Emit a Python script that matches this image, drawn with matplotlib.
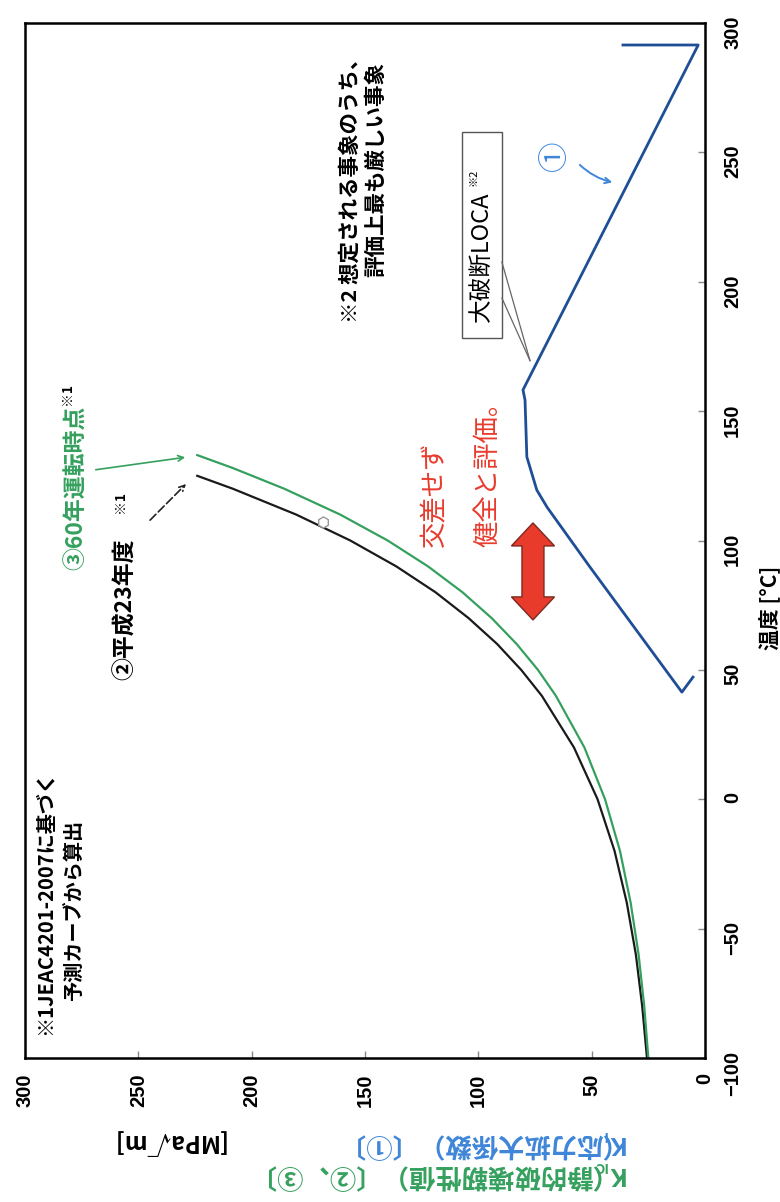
import matplotlib.pyplot as plt
import matplotlib.patches as mpatches
from matplotlib import font_manager

# K_I (stress intensity factor, large break LOCA)  -- temperature [°C], K [MPa√m]
ki_temp = [291.5, 291.5, 158.2, 154.3, 132.3, 119.5, 112.9, 89.8, 41.4, 47.2]
ki_val = [36.2, 3.0, 80.3, 79.4, 78.6, 74.2, 69.7, 50.8, 10.2, 5.3]

# K_IC (static fracture toughness) ② H23 and ③ 60 years operation
kic23_temp = [-100, -80, -60, -40, -20, 0, 20, 40, 50, 60, 70, 80, 90, 100, 110, 120, 125]
kic23_val = [25.6, 27.7, 30.5, 34.5, 39.9, 47.4, 57.8, 72.0, 81.1, 91.7, 104.3, 118.9, 136.2,
             156.5, 180.3, 208.3, 224.0]
kic60_temp = [-100, -80, -60, -40, -20, 0, 20, 40, 50, 60, 70, 80, 90, 100, 110, 120, 128, 133]
kic60_val = [25.0, 26.8, 29.3, 32.8, 37.5, 44.1, 53.2, 65.8, 73.7, 83.1, 94.1, 107.0, 122.2,
             140.0, 160.9, 185.6, 208.3, 224.0]

k_ticks = [0, 50, 100, 150, 200, 250, 300]
t_ticks = [-100, -50, 0, 50, 100, 150, 200, 250, 300]

BLUE = '#1e4f96'
LBLUE = '#3f86d8'
GREEN = '#35a05e'
RED = '#e83b2c'

plt.rcParams['font.family'] = ['Noto Sans CJK JP', 'DejaVu Sans']

names = {f.name for f in font_manager.fontManager.ttflist}
if 'Liberation Sans Narrow' in names:
    num_font, num_size = 'Liberation Sans Narrow', 17
else:
    num_font, num_size = 'Liberation Sans', 14.5

fig = plt.figure(figsize=(7.8, 12.02), dpi=100)
ax = fig.add_axes([25 / 780, 1 - 1058 / 1202, 680 / 780, 1035 / 1202])
ax.set_xlim(300, 0)
ax.set_ylim(-100, 300)
for s in ax.spines.values():
    s.set_linewidth(1.8)

ax.set_xticks(k_ticks)
ax.set_yticks(t_ticks)
ax.yaxis.tick_right()
ax.tick_params(direction='in', length=5, width=1, color='#888', pad=11)
ax.tick_params(axis='x', labelrotation=90)
ax.tick_params(axis='y', labelrotation=90, pad=13)
for lab in ax.get_xticklabels() + ax.get_yticklabels():
    lab.set_fontfamily(num_font)
    lab.set_fontsize(num_size)
    lab.set_fontweight('bold')

# curves
ax.plot(kic23_val, kic23_temp, color='#1a1a1a', lw=1.6)
ax.plot(kic60_val, kic60_temp, color=GREEN, lw=1.6)
ax.plot(ki_val, ki_temp, color=BLUE, lw=2)
ax.plot([168.5], [107], marker='h', ms=8, mfc='white', mec='#999', mew=1)


def vtext(k, t, s, ha='left', **kw):
    ax.text(k, t, s, rotation=90, rotation_mode='anchor', ha=ha, va='center', **kw)


# notes
vtext(291.2, -39.7, '※1JEAC4201-2007に基づく', ha='center', fontsize=14.5, fontweight='bold')
vtext(278.0, -42.8, '予測カーブから算出', ha='center', fontsize=14.5, fontweight='bold')

vtext(277.1, 88.6, '③60年運転時点', fontsize=16.5, fontweight='bold', color=GREEN)
vtext(281.5, 152.4, '※1', fontsize=10, fontweight='bold')
vtext(255.9, 46.1, '②平成23年度', fontsize=16.5, fontweight='bold')
vtext(258.1, 110.6, '※1', fontsize=10, fontweight='bold')

ax.annotate('', xy=(228.1, 132.3), xytext=(270, 127.2),
            arrowprops=dict(arrowstyle='->', color=GREEN, lw=1.2))
ax.annotate('', xy=(228.1, 122.6), xytext=(245.7, 107.1),
            arrowprops=dict(arrowstyle='->', color='#222', lw=1.2, ls=(0, (5, 2))))

vtext(156.6, 184.1, '※2 想定される事象のうち、', fontsize=15.5, fontweight='bold')
vtext(145.2, 201.8, '評価上最も厳しい事象', fontsize=15.5, fontweight='bold')

ax.add_patch(mpatches.Rectangle((89.6, 178.3), 17.6, 79.6, fc='white', ec='#555', lw=1))
vtext(98.9, 184.4, '大破断LOCA', fontsize=17)
vtext(102.0, 237.0, '※2', fontsize=8)
ax.plot([89.6, 77.2], [207.6, 169.5], color='#666', lw=0.9)
ax.plot([89.6, 77.2], [193.7, 169.5], color='#666', lw=0.9)

vtext(65.8, 248.6, '①', ha='center', fontsize=22, color=LBLUE)
ax.annotate('', xy=(39.7, 238.2), xytext=(56.1, 245.9),
            arrowprops=dict(arrowstyle='->', color=LBLUE, lw=1.4,
                            connectionstyle='arc3,rad=0.15'))

vtext(119.1, 97.5, '交差せず', fontsize=19, color=RED)
vtext(95.8, 97.5, '健全と評価。', fontsize=19, color=RED)

# red double arrow (margin between curves)
x0, hw, hh = 75.9, 4.85, 9.5
top, bot, hl = 106.8, 69.3, 8.9
arrow_xy = [(x0, top), (x0 - hh, top - hl), (x0 - hw, top - hl), (x0 - hw, bot + hl),
            (x0 - hh, bot + hl), (x0, bot), (x0 + hh, bot + hl), (x0 + hw, bot + hl),
            (x0 + hw, top - hl), (x0 + hh, top - hl)]
ax.add_patch(mpatches.Polygon(arrow_xy, closed=True, fc=RED, ec='#7a2a20', lw=1))

# axis titles
fig.text(770 / 780, 1 - 650 / 1202, '温度 [°C]', rotation=90, rotation_mode='anchor',
         ha='left', va='center', fontsize=15, fontweight='bold')


def ylab(x, y, s, size, color, **kw):
    fig.text(x / 780, 1 - y / 1202, s, rotation=180, rotation_mode='anchor',
             ha='left', va='center', fontsize=size, fontweight='bold', color=color, **kw)


ylab(624, 1143, 'K', 18, LBLUE)
ylab(607, 1135, 'I', 10, LBLUE)
ylab(594, 1143, '（応力拡大係数）〔①〕', 19, LBLUE)
ylab(225, 1143, '[MPa√m]', 17, 'black')

ylab(624, 1174, 'K', 18, GREEN)
ylab(607, 1166, 'IC', 10, GREEN)
ylab(584, 1174, '（静的破壊靭性値）〔②、③〕', 19, GREEN)

fig.savefig('out.png', dpi=100)
